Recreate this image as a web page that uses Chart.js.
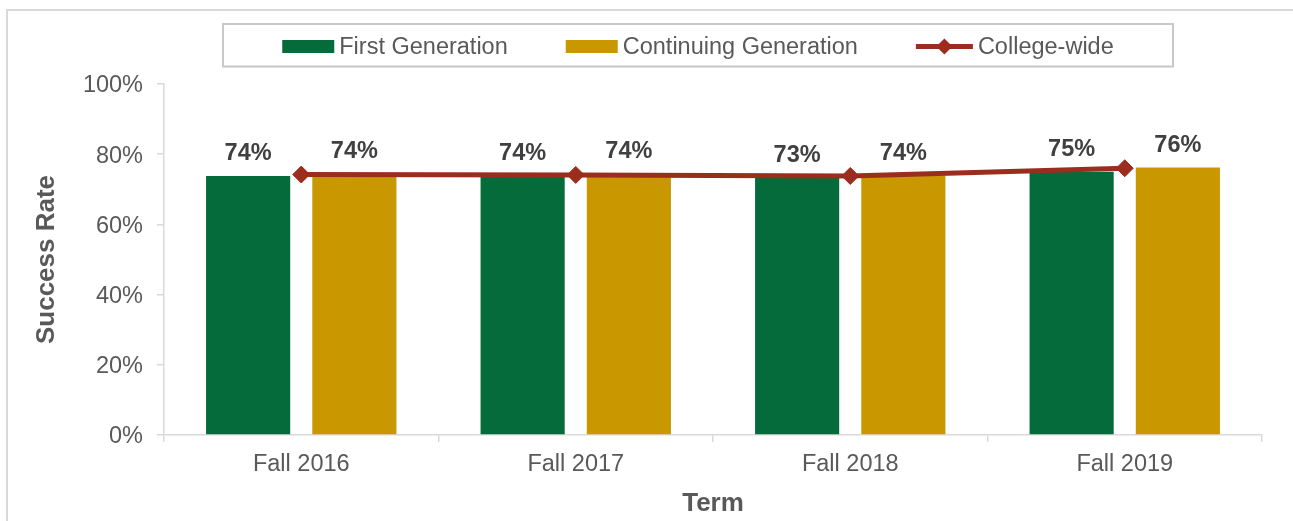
<!DOCTYPE html>
<html>
<head>
<meta charset="utf-8">
<script src="https://cdn.jsdelivr.net/npm/chart.js@4.4.1/dist/chart.umd.min.js"></script>
<style>
  html, body { margin: 0; padding: 0; background: #fff; }
  #wrap { position: relative; width: 1293px; height: 521px; }
</style>
</head>
<body>
<div id="wrap"><canvas id="successChart"></canvas></div>
<script>
// Success rates by term (percent)
const terms = ['Fall 2016', 'Fall 2017', 'Fall 2018', 'Fall 2019'];
const firstGen = [73.8, 73.9, 73.2, 75.0];
const continuingGen = [74.3, 74.3, 73.9, 76.2];
const collegeWide = [74.2, 74.1, 73.8, 76.0];
const yTicks = [0, 20, 40, 60, 80, 100];

const FONT = '"Liberation Sans", Arial, sans-serif';
const GREEN = '#056b3a';
const GOLD = '#c99700';
const RED = '#9b2d1f';
const AXIS = '#d9d9d9';
const TEXT = '#595959';

Chart.defaults.font.family = FONT;

/* outer frame, drawn first */
const framePlugin = {
  id: 'frame',
  beforeDraw(chart) {
    const ctx = chart.ctx;
    ctx.save();
    ctx.fillStyle = '#fff';
    ctx.fillRect(0, 0, chart.width, chart.height);
    ctx.strokeStyle = AXIS;
    ctx.lineWidth = 2;
    ctx.strokeRect(7, 10, chart.width + 20, chart.height + 20);
    ctx.restore();
  }
};

/* value labels above the bars */
const valueLabels = {
  id: 'valueLabels',
  afterDatasetsDraw(chart) {
    const ctx = chart.ctx;
    ctx.save();
    ctx.font = 'bold 23.5px ' + FONT;
    ctx.fillStyle = '#404040';
    ctx.textAlign = 'center';
    ctx.textBaseline = 'alphabetic';
    chart.data.datasets.forEach((ds, i) => {
      if (ds.type !== 'bar') return;
      chart.getDatasetMeta(i).data.forEach((bar, j) => {
        ctx.fillText(Math.round(ds.data[j]) + '%', bar.x, bar.y - 16);
      });
    });
    ctx.restore();
  }
};

/* boxed legend like the original */
const boxLegend = {
  id: 'boxLegend',
  afterDraw(chart) {
    const ctx = chart.ctx;
    const box = { x: 223, y: 24, w: 950, h: 42.5 };
    const midY = 46.5;
    ctx.save();
    ctx.strokeStyle = '#c8c8c8';
    ctx.lineWidth = 2;
    ctx.strokeRect(box.x, box.y, box.w, box.h);

    ctx.font = '23.5px ' + FONT;
    const items = chart.data.datasets.map(ds => ({
      ds,
      sw: ds.type === 'line' ? 57 : 52,
      tw: ctx.measureText(ds.label).width
    }));
    const gap = 5, spacing = 58;
    const total = items.reduce((s, it) => s + it.sw + gap + it.tw, 0) + spacing * (items.length - 1);
    let x = box.x + box.w / 2 - total / 2;

    items.forEach(it => {
      const ds = it.ds;
      if (ds.type === 'line') {
        ctx.strokeStyle = ds.borderColor;
        ctx.lineWidth = 5;
        ctx.beginPath();
        ctx.moveTo(x, midY);
        ctx.lineTo(x + it.sw, midY);
        ctx.stroke();
        ctx.fillStyle = ds.borderColor;
        const cx = x + it.sw / 2, r = 8;
        ctx.beginPath();
        ctx.moveTo(cx, midY - r);
        ctx.lineTo(cx + r, midY);
        ctx.lineTo(cx, midY + r);
        ctx.lineTo(cx - r, midY);
        ctx.closePath();
        ctx.fill();
      } else {
        ctx.fillStyle = ds.backgroundColor;
        ctx.fillRect(x, 40, it.sw, 13);
      }
      x += it.sw + gap;
      ctx.fillStyle = TEXT;
      ctx.textBaseline = 'middle';
      ctx.textAlign = 'left';
      ctx.fillText(ds.label, x, midY + 1);
      x += it.tw + spacing;
    });
    ctx.restore();
  }
};

new Chart(document.getElementById('successChart'), {
  data: {
    labels: terms,
    datasets: [
      {
        type: 'bar',
        label: 'First Generation',
        data: firstGen,
        backgroundColor: GREEN,
        categoryPercentage: 0.774,
        barPercentage: 0.792,
        order: 1
      },
      {
        type: 'bar',
        label: 'Continuing Generation',
        data: continuingGen,
        backgroundColor: GOLD,
        categoryPercentage: 0.774,
        barPercentage: 0.792,
        order: 1
      },
      {
        type: 'line',
        label: 'College-wide',
        data: collegeWide,
        borderColor: RED,
        backgroundColor: RED,
        borderWidth: 5,
        tension: 0,
        pointStyle: 'rectRot',
        pointRadius: 8.5,
        pointBorderWidth: 1,
        pointBackgroundColor: RED,
        pointBorderColor: RED,
        order: 0
      }
    ]
  },
  options: {
    responsive: true,
    maintainAspectRatio: false,
    animation: false,
    events: [],
    layout: { padding: { top: 84, right: 31, bottom: 0, left: 0 } },
    plugins: { legend: { display: false }, tooltip: { enabled: false } },
    scales: {
      x: {
        grid: { drawOnChartArea: false, drawTicks: true, tickLength: 7, color: AXIS, lineWidth: 1.5, offset: true },
        border: { color: AXIS, width: 1.5 },
        ticks: { color: TEXT, font: { size: 23.5 }, padding: 8 },
        title: { display: true, text: 'Term', color: TEXT, font: { size: 26, weight: 'bold' }, padding: { top: 0, bottom: 2 } },
        afterFit: s => { s.height = 86; }
      },
      y: {
        min: 0,
        max: 100,
        afterBuildTicks: s => { s.ticks = yTicks.map(v => ({ value: v })); },
        grid: { drawOnChartArea: false, drawTicks: true, tickLength: 7, color: AXIS, lineWidth: 1.5 },
        border: { color: AXIS, width: 1.5 },
        ticks: { color: TEXT, font: { size: 23.5 }, padding: 14, labelOffset: 2, callback: v => v + '%' },
        title: { display: true, text: 'Success Rate', color: TEXT, font: { size: 26, weight: 'bold' }, padding: { top: 31, bottom: 0 } },
        afterFit: s => { s.width = 164; }
      }
    }
  },
  plugins: [framePlugin, valueLabels, boxLegend]
});
</script>
</body>
</html>
